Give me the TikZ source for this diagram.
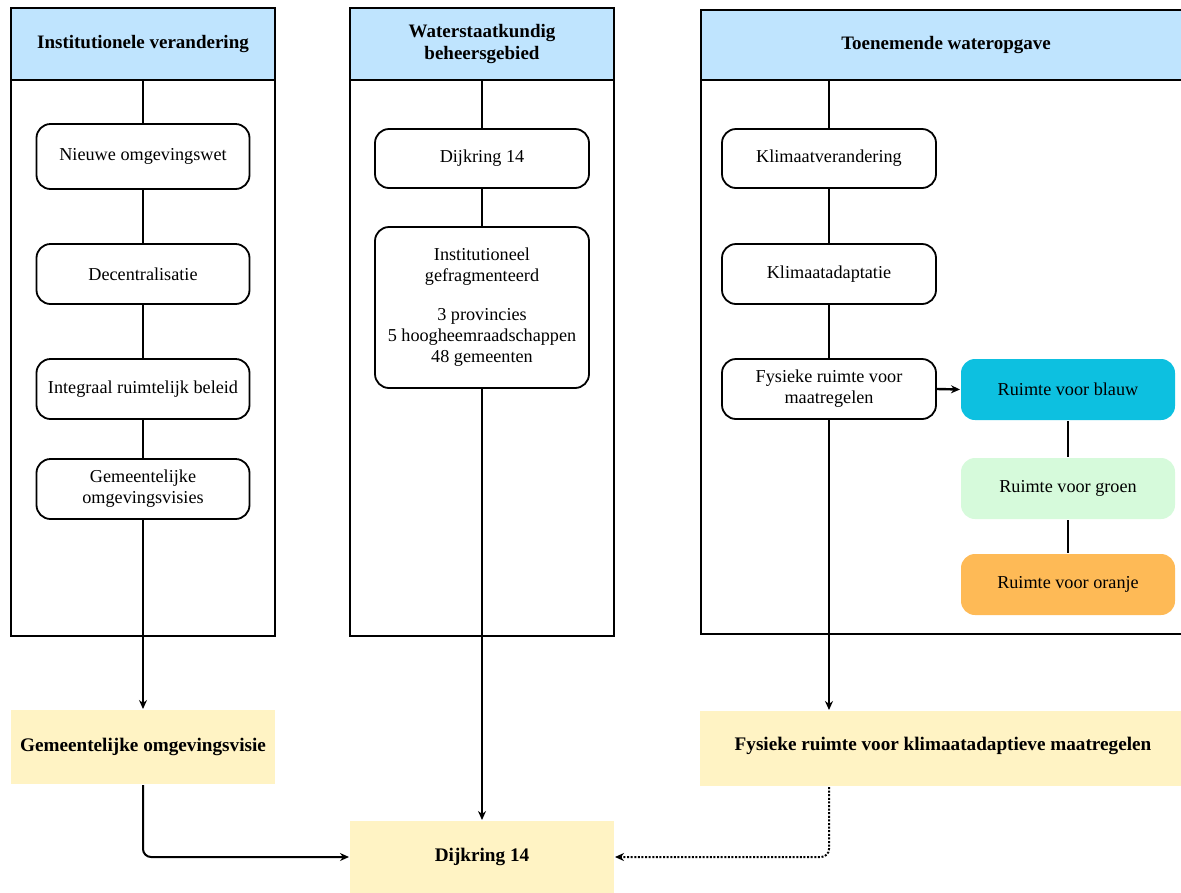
\documentclass[tikz,border=0pt]{standalone}
\usepackage{fontspec}
\setmainfont{Liberation Serif}
\usetikzlibrary{arrows.meta}
\definecolor{hdr}{HTML}{BFE4FE}
\definecolor{yel}{HTML}{FFF3C4}
\definecolor{blauw}{HTML}{0DC0E0}
\definecolor{groen}{HTML}{D6FADB}
\definecolor{oranje}{HTML}{FEBA56}
\begin{document}
\begin{tikzpicture}[x=1pt,y=-1pt,
  font=\fontsize{18.2}{21}\selectfont, line width=2pt,
  header/.style={draw, line width=2pt, fill=hdr, font=\bfseries\fontsize{19}{22}\selectfont, align=center, inner sep=0pt, minimum width=264pt, minimum height=72pt},
  body/.style={draw, line width=2pt, inner sep=0pt, minimum width=264pt},
  stepbox/.style={draw, line width=1.8pt, fill=white, rounded corners=14pt, align=center, inner sep=0pt, minimum width=213pt, minimum height=60pt},
  colbox/.style={rounded corners=14pt, align=center, inner sep=0pt, minimum width=214pt, minimum height=61pt},
  result/.style={fill=yel, font=\bfseries\fontsize{19.2}{22}\selectfont, align=center, inner sep=0pt},
  arr/.style={line width=2pt, -{Stealth[length=9pt,width=8pt]}},
  link/.style={line width=2pt}
]
\useasboundingbox (0,0) rectangle (1181,892);
% column bodies
\node[body, minimum height=556pt] (b1) at (143,358) {};
\node[body, minimum height=556pt] (b2) at (482,358) {};
\node[body, minimum height=554pt, minimum width=490pt] (b3) at (946,357) {};
% headers
\node[header] (h1) at (143,44) {Institutionele verandering};
\node[header] (h2) at (482,44) {Waterstaatkundig\\beheersgebied};
\node[header, minimum width=490pt, minimum height=70pt] (h3) at (946,45) {Toenemende wateropgave};
% column 1
\node[stepbox, minimum height=65pt] (n1) at (143,156.5) {Nieuwe omgevingswet};
\node[stepbox] (n2) at (143,274) {Decentralisatie};
\node[stepbox] (n3) at (143,389) {Integraal ruimtelijk beleid};
\node[stepbox] (n4) at (143,489) {Gemeentelijke\\omgevingsvisies};
% column 2
\node[stepbox, minimum width=214pt, minimum height=59pt] (d1) at (482,158.5) {Dijkring 14};
\node[stepbox, minimum width=214pt, minimum height=161pt] (d2) at (482,307.5) {Institutioneel\\gefragmenteerd\\[18pt]3 provincies\\5 hoogheemraadschappen\\48 gemeenten};
% column 3
\node[stepbox, minimum width=214pt, minimum height=59pt] (k1) at (829,158.5) {Klimaatverandering};
\node[stepbox, minimum width=214pt] (k2) at (829,274) {Klimaatadaptatie};
\node[stepbox, minimum width=214pt] (k3) at (829,389) {Fysieke ruimte voor\\maatregelen};
\node[colbox, fill=blauw] (r1) at (1068,389.5) {Ruimte voor blauw};
\node[colbox, fill=groen] (r2) at (1068,488.5) {Ruimte voor groen};
\node[colbox, fill=oranje] (r3) at (1068,584.5) {Ruimte voor oranje};
% results
\node[result, minimum width=264pt, minimum height=74pt] (g) at (143,747) {Gemeentelijke omgevingsvisie};
\node[result, minimum width=264pt, minimum height=72pt] (dk) at (482,857) {Dijkring 14};
\node[result, minimum width=490pt, minimum height=75pt] (fk) at (945,748.5) {};
\node[font=\bfseries\fontsize{19.2}{22}\selectfont] (fkt) at (943,746) {Fysieke ruimte voor klimaatadaptieve maatregelen};
% connectors column 1
\draw[link] (h1.south) -- (n1.north);
\draw[link] (n1.south) -- (n2.north);
\draw[link] (n2.south) -- (n3.north);
\draw[link] (n3.south) -- (n4.north);
\draw[arr] (n4.south) -- (g.north);
% column 2
\draw[link] (h2.south) -- (d1.north);
\draw[link] (d1.south) -- (d2.north);
\draw[arr] (d2.south) -- (dk.north);
% column 3
\draw[link] (k1.north |- h3.south) -- (k1.north);
\draw[link] (k1.south) -- (k2.north);
\draw[link] (k2.south) -- (k3.north);
\draw[arr] (k3.south) -- (k3.south |- fk.north);
\draw[arr, line width=2.4pt] (k3.east) -- (r1.west);
\draw[link] (r1.south) -- (r2.north);
\draw[link] (r2.south) -- (r3.north);
% bottom
\draw[arr, rounded corners=8pt] (g.south) |- (dk.west);
\draw[arr, dash pattern=on 2pt off 1.6pt, rounded corners=8pt] (k3.south |- fk.south) |- (dk.east);
\end{tikzpicture}
\end{document}
